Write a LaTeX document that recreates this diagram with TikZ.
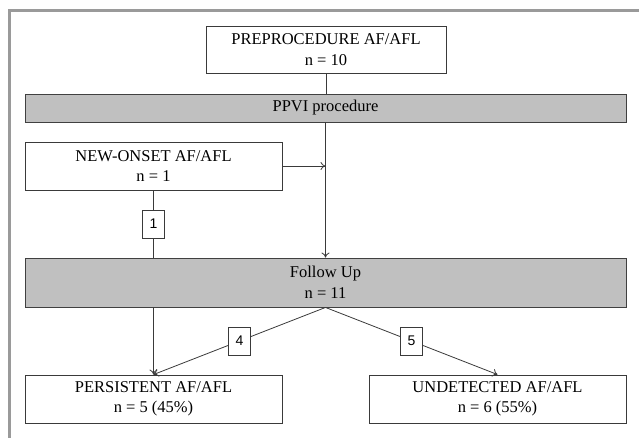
\documentclass[tikz,border=0pt]{standalone}
\usepackage{fontspec}
\setmainfont{Liberation Serif}
\newfontfamily\lblfont{Liberation Sans}
\usetikzlibrary{arrows.meta}
\definecolor{framegray}{HTML}{9A9A9A}
\definecolor{barfill}{HTML}{C0C0C0}
\definecolor{edgegray}{HTML}{3A3A3A}
\tikzset{
  box/.style={draw=edgegray, line width=0.9pt, fill=white, rectangle, inner sep=0pt,
    align=center, font=\fontsize{16.5}{20.5}\selectfont},
  bar/.style={box, fill=barfill, draw=black!75},
  conn/.style={draw=edgegray, line width=0.8pt},
  arr/.style={conn, -{To[length=5pt,width=8pt]}},
  lbl/.style={draw=edgegray, line width=0.9pt, fill=white, rectangle, inner sep=0pt,
    minimum width=22pt, minimum height=28pt, font=\lblfont\fontsize{14}{16}\selectfont}
}
\begin{document}
\begin{tikzpicture}[x=1pt,y=-1pt]
\useasboundingbox (0,0) rectangle (639,438);
\draw[framegray, line width=3pt] (9,438) -- (9,10.5) -- (639,10.5);

\node[box, minimum width=240pt, minimum height=47pt] (pre) at (326,49.5)
  {PREPROCEDURE AF/AFL\\n = 10};
\node[bar, minimum width=601pt, minimum height=28pt] (ppvi) at (325.5,108)
  {PPVI procedure};
\node[box, minimum width=257pt, minimum height=48pt] (new) at (153.5,166)
  {NEW-ONSET AF/AFL\\n = 1};
\node[bar, minimum width=601pt, minimum height=49pt] (fu) at (325.5,282.5)
  {Follow Up\\n = 11};
\node[box, minimum width=257pt, minimum height=48pt] (pers) at (153.5,399)
  {PERSISTENT AF/AFL\\n = 5 (45\%)};
\node[box, minimum width=257pt, minimum height=48pt] (und) at (497.5,399)
  {UNDETECTED AF/AFL\\n = 6 (55\%)};

\draw[conn] (pre.south) -- (pre.south |- ppvi.north);
\draw[arr] (ppvi.south) -- (fu.north);
\draw[arr] (new.east) -- (new.east -| ppvi.south);
\draw[conn] (new.south) -- (new.south |- fu.north)
  node[lbl, pos=0.5] (l1) {1};
\draw[arr] (new.south |- fu.south) -- (pers.north);
\draw[arr] (fu.south) -- (pers.north) node[lbl, pos=0.5] (l4) {4};
\draw[arr] (fu.south) -- (und.north) node[lbl, pos=0.5] (l5) {5};
\end{tikzpicture}
\end{document}
